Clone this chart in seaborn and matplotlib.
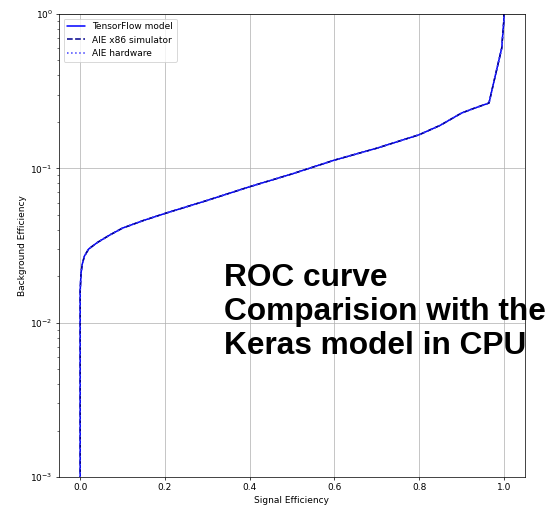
import matplotlib
matplotlib.use("Agg")
import matplotlib.pyplot as plt
import seaborn as sns
import pandas as pd

signal_eff = [0.0, 0.0, 0.0, 0.002, 0.005, 0.01, 0.02, 0.04, 0.07, 0.1, 0.15, 0.2, 0.3, 0.4,
              0.5, 0.6, 0.7, 0.8, 0.85, 0.88, 0.9, 0.93, 0.965, 0.98, 0.995, 1.0, 1.0]
background_eff = [0.0005, 0.005, 0.016, 0.021, 0.024, 0.027, 0.030, 0.033, 0.037, 0.041, 0.046,
                  0.051, 0.062, 0.076, 0.092, 0.113, 0.135, 0.165, 0.19, 0.212, 0.228, 0.245,
                  0.265, 0.40, 0.6, 0.9, 1.0]
series_names = ["TensorFlow model", "AIE x86 simulator", "AIE hardware"]
series_colors = ["#0000ff", "#00008b", "#4040ff"]
series_styles = ["-", "--", ":"]

sns.set_style("ticks", {"axes.edgecolor": "black", "text.color": "black",
                        "xtick.color": "black", "ytick.color": "black",
                        "axes.labelcolor": "black"})
plt.rcParams["font.family"] = ["DejaVu Sans"]

DPI = 65
fig = plt.figure(figsize=(550 / DPI, 505 / DPI), dpi=DPI)
ax = fig.add_axes([59 / 550, 28 / 505, 466 / 550, 463 / 505])

for name, col, ls in zip(series_names, series_colors, series_styles):
    df = pd.DataFrame({"sig": signal_eff, "bkg": background_eff})
    sns.lineplot(data=df, x="sig", y="bkg", sort=False, estimator=None, ax=ax,
                 color=col, linestyle=ls, linewidth=1.7, label=name)

ax.set_yscale("log")
ax.set_ylim(1e-3, 1)
ax.set_xlim(-0.05, 1.05)
ax.set_xticks([0.0, 0.2, 0.4, 0.6, 0.8, 1.0])
ax.grid(True, which="major", color="#b0b0b0", linewidth=0.8)
ax.tick_params(labelsize=10, length=3.5, width=0.8)
ax.tick_params(which="minor", length=2, width=0.6)
for s in ax.spines.values():
    s.set_linewidth(0.8)
    s.set_color("black")
ax.set_xlabel("Signal Efficiency", fontsize=10)
ax.set_ylabel("Background Efficiency", fontsize=10)
ax.legend(loc="upper left", fontsize=10, frameon=True, framealpha=0.8,
          edgecolor="#cccccc", fancybox=True)

fig.text(224 / 550, 1 - 263 / 505, "ROC curve\nComparision with the\nKeras model in CPU",
         fontsize=35, fontweight="bold", family=["Liberation Sans", "DejaVu Sans"],
         color="black", ha="left", va="top", linespacing=1.17)

fig.savefig("out.png", dpi=DPI)
